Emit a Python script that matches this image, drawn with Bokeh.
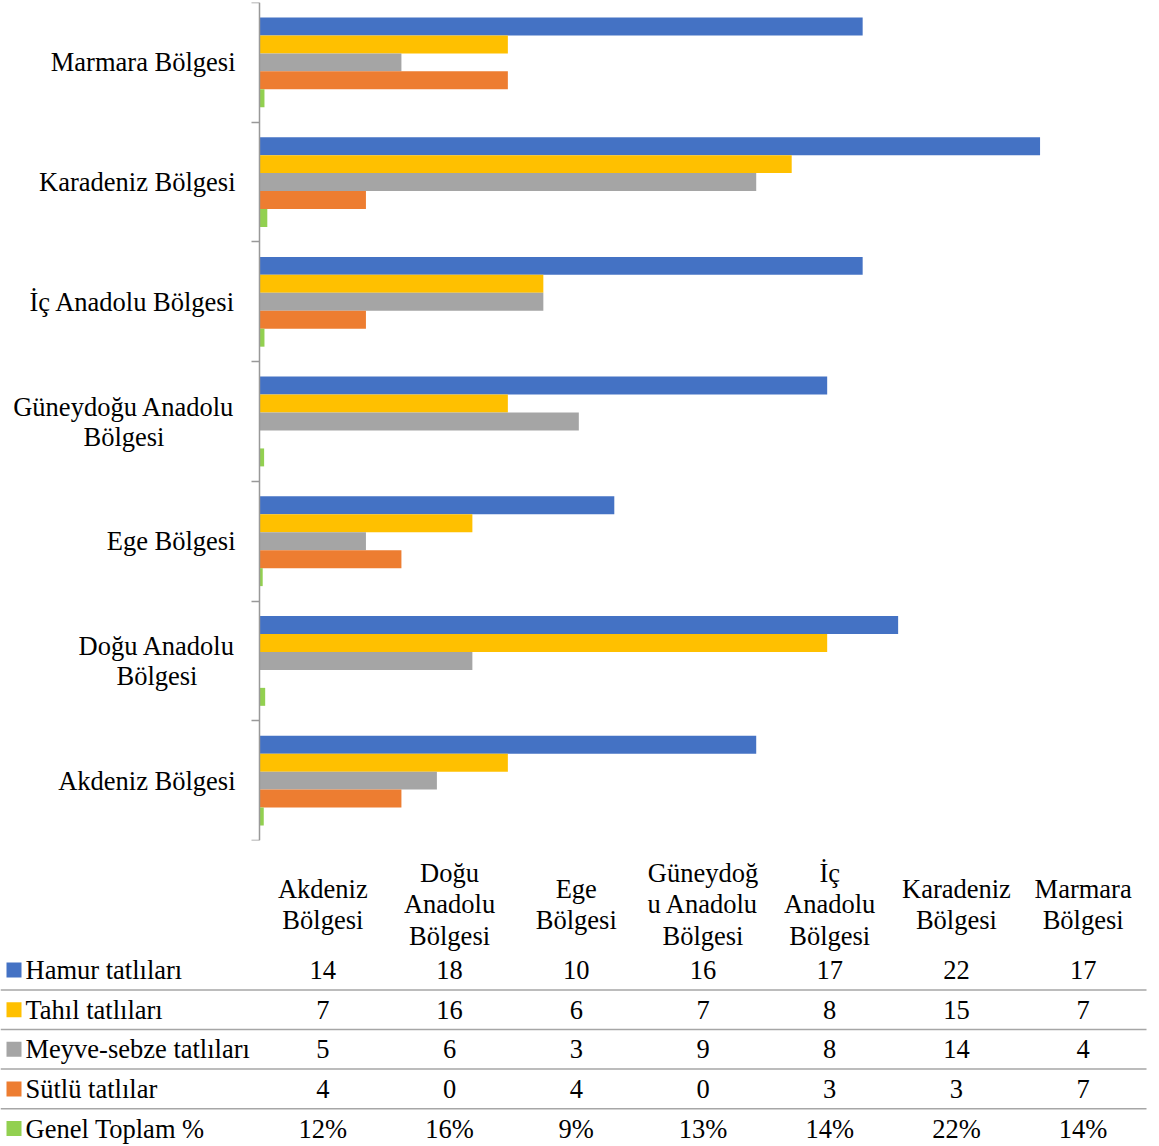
from bokeh.plotting import figure
from bokeh.models import Range1d, LinearAxis, FixedTicker
from bokeh.layouts import column
from bokeh.embed import file_html
from bokeh.resources import INLINE
from bokeh.core.properties import value

# ---------------- data ----------------
regions = ["Akdeniz Bölgesi", "Doğu Anadolu Bölgesi", "Ege Bölgesi",
           "Güneydoğu Anadolu Bölgesi", "İç Anadolu Bölgesi",
           "Karadeniz Bölgesi", "Marmara Bölgesi"]
axis_labels = ["Akdeniz Bölgesi", "Doğu Anadolu\nBölgesi", "Ege Bölgesi",
               "Güneydoğu Anadolu\nBölgesi", "İç Anadolu Bölgesi",
               "Karadeniz Bölgesi", "Marmara Bölgesi"]
table_headers = ["Akdeniz\nBölgesi", "Doğu\nAnadolu\nBölgesi", "Ege\nBölgesi",
                 "Güneydoğ\nu Anadolu\nBölgesi", "İç\nAnadolu\nBölgesi",
                 "Karadeniz\nBölgesi", "Marmara\nBölgesi"]
series_names = ["Hamur tatlıları", "Tahıl tatlıları", "Meyve-sebze  tatlıları",
                "Sütlü tatlılar", "Genel Toplam %"]
hamur = [14, 18, 10, 16, 17, 22, 17]
tahil = [7, 16, 6, 7, 8, 15, 7]
meyve = [5, 6, 3, 9, 8, 14, 4]
sutlu = [4, 0, 4, 0, 3, 3, 7]
genel_pct = [12, 16, 9, 13, 14, 22, 14]

colors = ["#4472C4", "#FFC000", "#A5A5A5", "#ED7D31", "#92D050"]
FONT = "Liberation Serif"
FS = "26.5px"

# ---------------- layout constants ----------------
W = 1159
PX_LEFT, PX_RIGHT = 259, 1146
XMAX = 25
k = (PX_RIGHT - PX_LEFT) / XMAX
x_range = Range1d(-PX_LEFT / k, (W - PX_LEFT) / k)

def px_to_x(px):
    return (px - PX_LEFT) / k

n = len(regions)
series = [hamur, tahil, meyve, sutlu, [g / 100 for g in genel_pct]]
BAR_H = 0.15

# ---------------- top: bar chart ----------------
TOP_H = 845
p = figure(width=W, height=TOP_H, x_range=x_range, y_range=Range1d(0, n),
           output_backend="svg", toolbar_location=None,
           x_axis_location=None, y_axis_location=None,
           min_border_left=0, min_border_right=0, min_border_top=2,
           min_border_bottom=5, outline_line_color=None,
           background_fill_color="white", border_fill_color="white")
p.grid.visible = False

centers = [i + 0.5 for i in range(n)]
for s, vals in enumerate(series):
    ys = [c + (2 - s) * BAR_H for c in centers]
    p.hbar(y=ys, left=0, right=vals, height=BAR_H, fill_color=colors[s],
           line_color=None)

yaxis = LinearAxis(fixed_location=0,
                   ticker=FixedTicker(ticks=list(range(n + 1)), minor_ticks=[]),
                   axis_line_color="#999999", axis_line_width=1.5,
                   major_tick_line_color="#999999", major_tick_line_width=1.5,
                   major_tick_out=8, major_tick_in=0, minor_tick_out=0,
                   minor_tick_in=0, major_label_text_alpha=0,
                   major_label_text_font_size="1px")
p.add_layout(yaxis, "left")

single = [i for i, l in enumerate(axis_labels) if "\n" not in l]
multi = [i for i, l in enumerate(axis_labels) if "\n" in l]
p.text(x=[0] * len(single), y=[centers[i] for i in single],
       text=[axis_labels[i] for i in single], x_offset=-24,
       text_align="right", text_baseline="middle",
       text_font=value(FONT), text_font_size=FS, text_color="black")
multi_offsets = {1: -102.5, 3: -135.5}
p.text(x=[0] * len(multi), y=[centers[i] for i in multi],
       text=[axis_labels[i] for i in multi],
       x_offset=[multi_offsets[i] for i in multi],
       text_align="center", text_baseline="middle", text_line_height=1.0,
       text_font=value(FONT), text_font_size=FS, text_color="black")

# ---------------- bottom: data table ----------------
BOT_H = 1146 - TOP_H
ROW_H = 39.6
ROW0_PX = 1128  # centre of last row, page pixels
y0 = -(TOP_H + BOT_H - ROW0_PX) / ROW_H
y1 = (ROW0_PX - TOP_H) / ROW_H
t = figure(width=W, height=BOT_H, x_range=x_range, y_range=Range1d(y0, y1),
           output_backend="svg", toolbar_location=None,
           x_axis_location=None, y_axis_location=None,
           min_border_left=0, min_border_right=0, min_border_top=0,
           min_border_bottom=0, outline_line_color=None,
           background_fill_color="white", border_fill_color="white")
t.grid.visible = False

col_w = XMAX / n
col_x = [(j + 0.5) * col_w for j in range(n)]
nrows = len(series_names)
row_y = [nrows - 1 - r for r in range(nrows)]

# header
t.text(x=col_x, y=[(ROW0_PX - 904) / ROW_H] * n, text=table_headers,
       text_align="center", text_baseline="middle", text_line_height=1.06,
       text_font=value(FONT), text_font_size=FS, text_color="black")

# separators
sep_y = [r + 0.5 for r in range(nrows - 1)]
t.segment(x0=[x_range.start] * len(sep_y), x1=[XMAX] * len(sep_y),
          y0=sep_y, y1=sep_y, line_color="#A6A6A6", line_width=1.5)

# legend keys and row names
t.scatter(x=[px_to_x(13.5)] * nrows, y=row_y, marker="square", size=15,
          fill_color=colors, line_color=None)
t.text(x=[px_to_x(25)] * nrows, y=row_y, text=series_names,
       text_align="left", text_baseline="middle",
       text_font=value(FONT), text_font_size=FS, text_color="black")

# values
table_rows = [[str(v) for v in hamur], [str(v) for v in tahil],
              [str(v) for v in meyve], [str(v) for v in sutlu],
              [f"{v}%" for v in genel_pct]]
xs, ys, txt = [], [], []
for r, vals in enumerate(table_rows):
    for j, v in enumerate(vals):
        xs.append(col_x[j]); ys.append(row_y[r]); txt.append(v)
t.text(x=xs, y=ys, text=txt, text_align="center", text_baseline="middle",
       text_font=value(FONT), text_font_size=FS, text_color="black")

layout = column(p, t, spacing=0)
open("out.html", "w").write(file_html(layout, INLINE))
